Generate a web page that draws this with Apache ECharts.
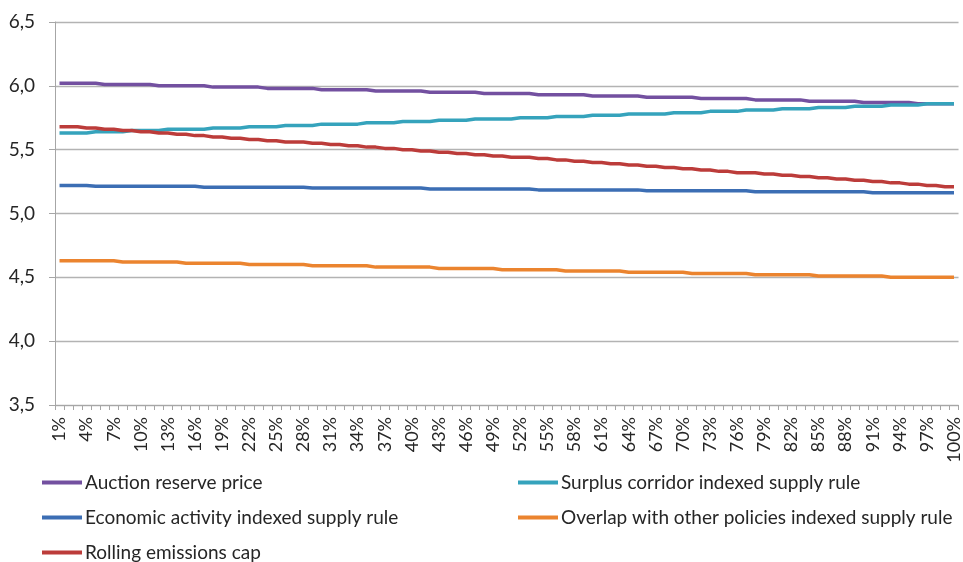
<!DOCTYPE html>
<html>
<head>
<meta charset="utf-8">
<script src="https://cdn.jsdelivr.net/npm/echarts@6/dist/echarts.min.js"></script>
<style>
html,body{margin:0;padding:0;background:#fff;}
#chart{width:963px;height:562px;}
</style>
</head>
<body>
<div id="chart"></div>
<script>
// Categories: 1% .. 100%
const categories = [
"1%","2%","3%","4%","5%","6%","7%","8%","9%","10%",
"11%","12%","13%","14%","15%","16%","17%","18%","19%","20%",
"21%","22%","23%","24%","25%","26%","27%","28%","29%","30%",
"31%","32%","33%","34%","35%","36%","37%","38%","39%","40%",
"41%","42%","43%","44%","45%","46%","47%","48%","49%","50%",
"51%","52%","53%","54%","55%","56%","57%","58%","59%","60%",
"61%","62%","63%","64%","65%","66%","67%","68%","69%","70%",
"71%","72%","73%","74%","75%","76%","77%","78%","79%","80%",
"81%","82%","83%","84%","85%","86%","87%","88%","89%","90%",
"91%","92%","93%","94%","95%","96%","97%","98%","99%","100%"];

const auctionReservePrice = [
6.02,6.02,6.02,6.02,6.02,6.01,6.01,6.01,6.01,6.01,
6.01,6.00,6.00,6.00,6.00,6.00,6.00,5.99,5.99,5.99,
5.99,5.99,5.99,5.98,5.98,5.98,5.98,5.98,5.98,5.97,
5.97,5.97,5.97,5.97,5.97,5.96,5.96,5.96,5.96,5.96,
5.96,5.95,5.95,5.95,5.95,5.95,5.95,5.94,5.94,5.94,
5.94,5.94,5.94,5.93,5.93,5.93,5.93,5.93,5.93,5.92,
5.92,5.92,5.92,5.92,5.92,5.91,5.91,5.91,5.91,5.91,
5.91,5.90,5.90,5.90,5.90,5.90,5.90,5.89,5.89,5.89,
5.89,5.89,5.89,5.88,5.88,5.88,5.88,5.88,5.88,5.87,
5.87,5.87,5.87,5.87,5.87,5.86,5.86,5.86,5.86,5.86];

const surplusCorridor = [
5.63,5.63,5.63,5.63,5.64,5.64,5.64,5.64,5.65,5.65,
5.65,5.65,5.66,5.66,5.66,5.66,5.66,5.67,5.67,5.67,
5.67,5.68,5.68,5.68,5.68,5.69,5.69,5.69,5.69,5.70,
5.70,5.70,5.70,5.70,5.71,5.71,5.71,5.71,5.72,5.72,
5.72,5.72,5.73,5.73,5.73,5.73,5.74,5.74,5.74,5.74,
5.74,5.75,5.75,5.75,5.75,5.76,5.76,5.76,5.76,5.77,
5.77,5.77,5.77,5.78,5.78,5.78,5.78,5.78,5.79,5.79,
5.79,5.79,5.80,5.80,5.80,5.80,5.81,5.81,5.81,5.81,
5.82,5.82,5.82,5.82,5.83,5.83,5.83,5.83,5.84,5.84,
5.84,5.84,5.85,5.85,5.85,5.85,5.86,5.86,5.86,5.86];

const economicActivity = [
5.220,5.220,5.220,5.220,5.213,5.213,5.213,5.213,5.213,5.213,
5.213,5.213,5.213,5.213,5.213,5.213,5.206,5.206,5.206,5.206,
5.206,5.206,5.206,5.206,5.206,5.206,5.206,5.206,5.199,5.199,
5.199,5.199,5.199,5.199,5.199,5.199,5.199,5.199,5.199,5.199,
5.199,5.192,5.192,5.192,5.192,5.192,5.192,5.192,5.192,5.192,
5.192,5.192,5.192,5.185,5.185,5.185,5.185,5.185,5.185,5.185,
5.185,5.185,5.185,5.185,5.185,5.178,5.178,5.178,5.178,5.178,
5.178,5.178,5.178,5.178,5.178,5.178,5.178,5.170,5.170,5.170,
5.170,5.170,5.170,5.170,5.170,5.170,5.170,5.170,5.170,5.170,
5.163,5.163,5.163,5.163,5.163,5.163,5.163,5.163,5.163,5.163];

const overlapPolicies = [
4.63,4.63,4.63,4.63,4.63,4.63,4.63,4.62,4.62,4.62,
4.62,4.62,4.62,4.62,4.61,4.61,4.61,4.61,4.61,4.61,
4.61,4.60,4.60,4.60,4.60,4.60,4.60,4.60,4.59,4.59,
4.59,4.59,4.59,4.59,4.59,4.58,4.58,4.58,4.58,4.58,
4.58,4.58,4.57,4.57,4.57,4.57,4.57,4.57,4.57,4.56,
4.56,4.56,4.56,4.56,4.56,4.56,4.55,4.55,4.55,4.55,
4.55,4.55,4.55,4.54,4.54,4.54,4.54,4.54,4.54,4.54,
4.53,4.53,4.53,4.53,4.53,4.53,4.53,4.52,4.52,4.52,
4.52,4.52,4.52,4.52,4.51,4.51,4.51,4.51,4.51,4.51,
4.51,4.51,4.50,4.50,4.50,4.50,4.50,4.50,4.50,4.50];

const rollingCap = [
5.68,5.68,5.68,5.67,5.67,5.66,5.66,5.65,5.65,5.64,
5.64,5.63,5.63,5.62,5.62,5.61,5.61,5.60,5.60,5.59,
5.59,5.58,5.58,5.57,5.57,5.56,5.56,5.56,5.55,5.55,
5.54,5.54,5.53,5.53,5.52,5.52,5.51,5.51,5.50,5.50,
5.49,5.49,5.48,5.48,5.47,5.47,5.46,5.46,5.45,5.45,
5.44,5.44,5.44,5.43,5.43,5.42,5.42,5.41,5.41,5.40,
5.40,5.39,5.39,5.38,5.38,5.37,5.37,5.36,5.36,5.35,
5.35,5.34,5.34,5.33,5.33,5.32,5.32,5.32,5.31,5.31,
5.30,5.30,5.29,5.29,5.28,5.28,5.27,5.27,5.26,5.26,
5.25,5.25,5.24,5.24,5.23,5.23,5.22,5.22,5.21,5.21];

const seriesNames = [
"Auction reserve price",
"Surplus corridor indexed supply rule",
"Economic activity indexed supply rule",
"Overlap with other policies indexed supply rule",
"Rolling emissions cap"];
const seriesData = [auctionReservePrice, surplusCorridor, economicActivity, overlapPolicies, rollingCap];
const seriesColors = ["#7350A0", "#35A3BC", "#3C6EB4", "#EB842F", "#BC3C3A"];

const FONT = "Lato, 'Open Sans', sans-serif";
const chart = echarts.init(document.getElementById('chart'), null, {renderer: 'canvas'});

const legendCommon = {
  orient: 'horizontal',
  icon: 'rect',
  itemWidth: 40,
  itemHeight: 4,
  selectedMode: false,
  padding: 0,
  textStyle: {fontFamily: FONT, fontSize: 19, color: '#262626', padding: [0, 0, 0, -2]}
};
const legendPos = [
  {left: 42, top: 473},
  {left: 518, top: 473},
  {left: 42, top: 508},
  {left: 518, top: 508},
  {left: 42, top: 543}
];

chart.setOption({
  animation: false,
  backgroundColor: '#ffffff',
  grid: {left: 55, right: 3, top: 22, bottom: 157, containLabel: false},
  legend: seriesNames.map((n, i) => Object.assign({}, legendCommon, legendPos[i], {data: [n]})),
  xAxis: {
    type: 'category',
    data: categories,
    boundaryGap: true,
    axisLine: {show: true, lineStyle: {color: '#A6A6A6', width: 1}},
    axisTick: {show: true, interval: 0, length: 5, lineStyle: {color: '#A6A6A6'}},
    axisLabel: {interval: 2, rotate: 90, margin: 12, fontFamily: FONT, fontSize: 18, color: '#262626'},
    splitLine: {show: false}
  },
  yAxis: {
    type: 'value',
    min: 3.5,
    max: 6.5,
    interval: 0.5,
    axisLine: {show: true, lineStyle: {color: '#A6A6A6', width: 1}},
    axisTick: {show: true, length: 6, lineStyle: {color: '#A6A6A6'}},
    axisLabel: {
      fontFamily: FONT, fontSize: 19, color: '#262626', margin: 20,
      formatter: v => v.toFixed(1).replace('.', ',')
    },
    splitLine: {show: true, lineStyle: {color: '#B3B3B3', width: 1.3}}
  },
  series: seriesNames.map((name, i) => ({
    name: name,
    type: 'line',
    data: seriesData[i],
    symbol: 'none',
    smooth: false,
    lineStyle: {color: seriesColors[i], width: 3.5},
    itemStyle: {color: seriesColors[i]},
    z: 2 + i
  }))
});
</script>
</body>
</html>
